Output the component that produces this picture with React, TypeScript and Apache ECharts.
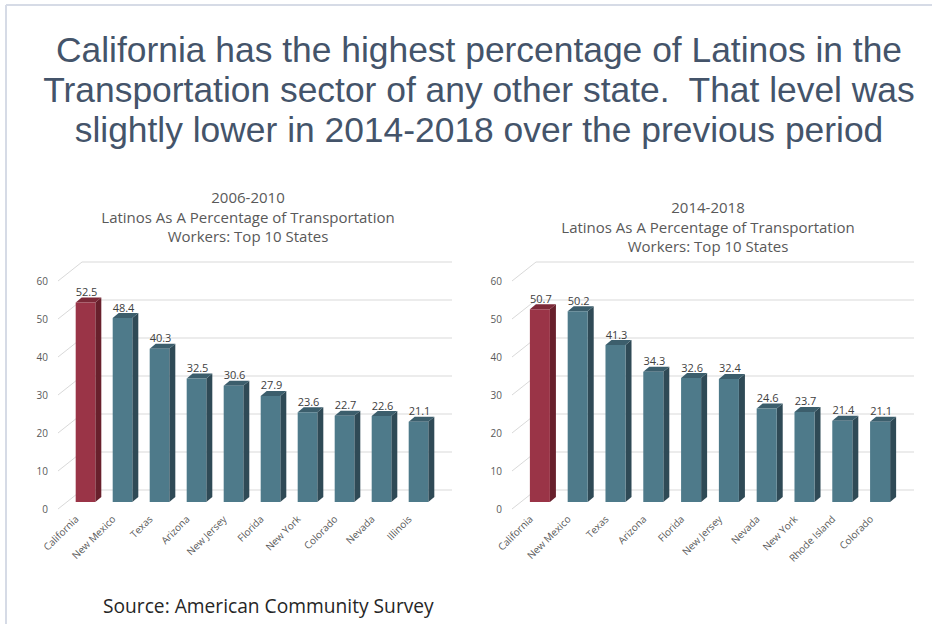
import React, { useEffect, useRef } from "react";
import * as echarts from "echarts";

const titleLines = [
  "California has the highest percentage of Latinos in the",
  "Transportation sector of any other state.  That level was",
  "slightly lower in 2014-2018 over the previous period",
];
const leftTitle = ["2006-2010", "Latinos As A Percentage of Transportation", "Workers: Top 10 States"];
const rightTitle = ["2014-2018", "Latinos As A Percentage of Transportation", "Workers: Top 10 States"];

const statesA = ["California", "New Mexico", "Texas", "Arizona", "New Jersey", "Florida", "New York", "Colorado", "Nevada", "Illinois"];
const valuesA = [52.5, 48.4, 40.3, 32.5, 30.6, 27.9, 23.6, 22.7, 22.6, 21.1];

const statesB = ["California", "New Mexico", "Texas", "Arizona", "Florida", "New Jersey", "Nevada", "New York", "Rhode Island", "Colorado"];
const valuesB = [50.7, 50.2, 41.3, 34.3, 32.6, 32.4, 24.6, 23.7, 21.4, 21.1];

const yTicks = [0, 10, 20, 30, 40, 50, 60];
const sourceText = "Source: American Community Survey";

const BACK_DX = 24;
const BACK_DY = -19;
const BAR_DX = 9;
const BAR_DY = -7;
const DEPTH_X = 6;
const DEPTH_Y = -5;

function gridRender(params: any, api: any) {
  const cs = params.coordSys;
  const v = api.value(1);
  const y = api.coord([0, v])[1];
  return {
    type: "polyline",
    shape: {
      points: [
        [cs.x, y],
        [cs.x + BACK_DX, y + BACK_DY],
        [cs.x + cs.width + BACK_DX, y + BACK_DY],
      ],
    },
    style: { stroke: "#d9d9d9", lineWidth: 1, fill: null },
    silent: true,
  };
}

function barRender(params: any, api: any) {
  const idx = api.value(0);
  const v = api.value(1);
  const p = api.coord([idx, v]);
  const base = api.coord([idx, 0]);
  const band = api.size([1, 0])[0];
  const w = band * 0.53;
  const left = p[0] + BAR_DX - w / 2;
  const top = p[1] + BAR_DY;
  const bottom = base[1] + BAR_DY;
  const hi = idx === 0;
  const front = hi ? "#9a3447" : "#4e7a8a";
  const side = hi ? "#68202c" : "#2f4a56";
  const topC = hi ? "#7c2938" : "#3c5e6c";
  return {
    type: "group",
    children: [
      {
        type: "polygon",
        shape: {
          points: [
            [left + w, top],
            [left + w + DEPTH_X, top + DEPTH_Y],
            [left + w + DEPTH_X, bottom + DEPTH_Y],
            [left + w, bottom],
          ],
        },
        style: { fill: side },
      },
      {
        type: "polygon",
        shape: {
          points: [
            [left, top],
            [left + DEPTH_X, top + DEPTH_Y],
            [left + w + DEPTH_X, top + DEPTH_Y],
            [left + w, top],
          ],
        },
        style: { fill: topC },
      },
      {
        type: "rect",
        shape: { x: left, y: top, width: w, height: bottom - top },
        style: { fill: front },
      },
      {
        type: "text",
        x: left + w / 2 + 1,
        y: top - 11,
        style: {
          text: String(v),
          textAlign: "center",
          textVerticalAlign: "middle",
          fontSize: 11,
          fontFamily: "Open Sans",
          fill: "#404040",
        },
      },
    ],
  };
}

export default function App() {
  const ref = useRef<HTMLDivElement>(null);
  useEffect(() => {
    if (!ref.current) return;
    const chart = echarts.init(ref.current, null, { renderer: "svg" });
    const axisFont = { fontFamily: "Open Sans", color: "#595959" };
    const mkX = (gi: number, cats: string[]) => ({
      type: "category",
      gridIndex: gi,
      data: cats,
      axisLine: { show: false },
      axisTick: { show: false },
      axisLabel: { ...axisFont, fontSize: 10, rotate: 45, interval: 0, margin: 8 },
    });
    const mkY = (gi: number) => ({
      type: "value",
      gridIndex: gi,
      min: 0,
      max: 60,
      interval: 10,
      axisLine: { show: false },
      axisTick: { show: false },
      splitLine: { show: false },
      axisLabel: { ...axisFont, fontSize: 10, margin: 10 },
    });
    const blockText = (lines: string[], cx: number, cy: number, lh: number, size: number, color: string, font: string) => ({
      type: "text",
      x: cx,
      y: cy,
      style: {
        text: lines.join("\n"),
        textAlign: "center",
        textVerticalAlign: "middle",
        fontSize: size,
        lineHeight: lh,
        fontFamily: font,
        fill: color,
      },
    });
    chart.setOption({
      animation: false,
      backgroundColor: "#ffffff",
      grid: [
        { left: 58, top: 281, width: 370, height: 228 },
        { left: 512, top: 281, width: 378, height: 228 },
      ],
      xAxis: [mkX(0, statesA), mkX(1, statesB)],
      yAxis: [mkY(0), mkY(1)],
      series: [
        {
          type: "custom",
          xAxisIndex: 0,
          yAxisIndex: 0,
          renderItem: gridRender,
          data: yTicks.map((v) => [0, v]),
          z: 1,
        },
        {
          type: "custom",
          xAxisIndex: 1,
          yAxisIndex: 1,
          renderItem: gridRender,
          data: yTicks.map((v) => [0, v]),
          z: 1,
        },
        {
          type: "custom",
          xAxisIndex: 0,
          yAxisIndex: 0,
          renderItem: barRender,
          data: valuesA.map((v, i) => [i, v]),
          z: 2,
        },
        {
          type: "custom",
          xAxisIndex: 1,
          yAxisIndex: 1,
          renderItem: barRender,
          data: valuesB.map((v, i) => [i, v]),
          z: 2,
        },
      ],
      graphic: [
        { type: "line", shape: { x1: 6, y1: 5, x2: 932, y2: 5 }, style: { stroke: "#d6dbe6", lineWidth: 2 } },
        { type: "line", shape: { x1: 6, y1: 5, x2: 6, y2: 624 }, style: { stroke: "#d6dbe6", lineWidth: 2 } },
        blockText(titleLines, 479, 90, 40, 35.4, "#44546a", "Liberation Sans"),
        blockText(leftTitle, 248, 216.5, 19.5, 15, "#595959", "Open Sans"),
        blockText(rightTitle, 708, 226.5, 19.5, 15, "#595959", "Open Sans"),
        {
          type: "text",
          x: 103,
          y: 605,
          style: {
            text: sourceText,
            textAlign: "left",
            textVerticalAlign: "middle",
            fontSize: 19.2,
            fontFamily: "Open Sans",
            fill: "#262626",
          },
        },
      ],
    });
    return () => chart.dispose();
  }, []);
  return <div ref={ref} style={{ position: "absolute", left: 0, top: 0, width: 932, height: 624 }} />;
}
